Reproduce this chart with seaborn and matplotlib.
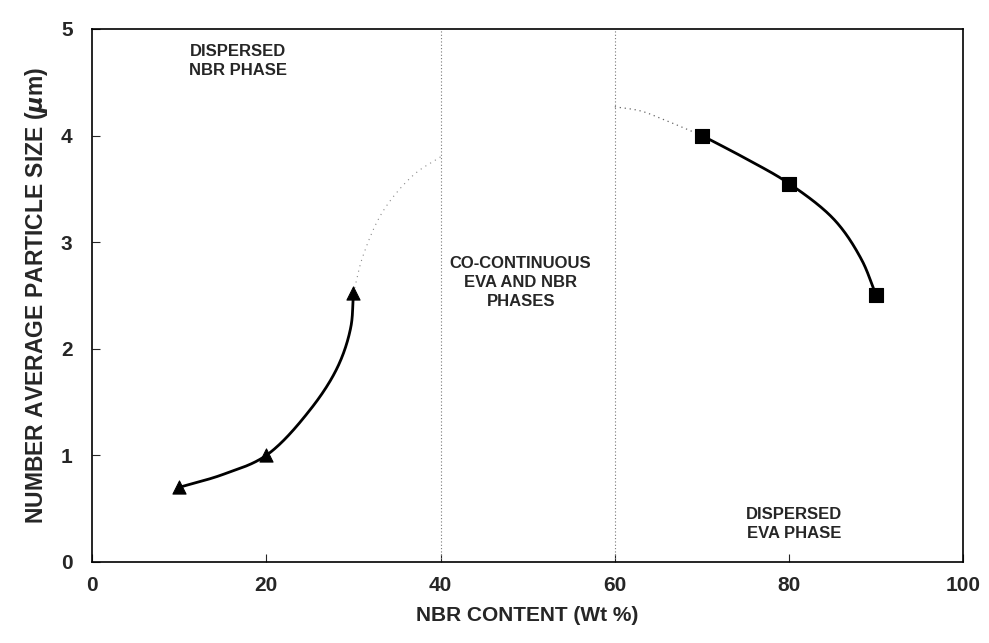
import numpy as np
import pandas as pd
import matplotlib
matplotlib.use("Agg")
import matplotlib.pyplot as plt
import seaborn as sns

# Measured particle sizes
nbr_content_low = [10, 20, 30]          # dispersed NBR phase (triangles)
size_low = [0.7, 1.0, 2.52]
nbr_content_high = [70, 80, 90]         # dispersed EVA phase (squares)
size_high = [4.0, 3.55, 2.5]

# Hand-drawn trend curves through the measurements
trend_low_x = [10, 15, 20, 25.06, 28.2, 29.7, 30]
trend_low_y = [0.7, 0.82, 1.0, 1.43, 1.83, 2.2, 2.52]
trend_high_x = [70, 74.9, 80, 85.2, 88.3, 90]
trend_high_y = [4.0, 3.79, 3.55, 3.21, 2.84, 2.5]

# Dotted extrapolations toward the co-continuous region
extrap_low_x = [30, 31.1, 33.4, 36.9, 40]
extrap_low_y = [2.52, 2.87, 3.29, 3.63, 3.8]
extrap_high_x = [60, 63, 65.6, 70]
extrap_high_y = [4.27, 4.23, 4.15, 4.0]

phase_bounds = [40, 60]

x_ticks = [0, 20, 40, 60, 80, 100]
y_ticks = [0, 1, 2, 3, 4, 5]

region_labels = ["DISPERSED\nNBR PHASE", "CO-CONTINUOUS\nEVA AND NBR\nPHASES",
                 "DISPERSED\nEVA PHASE"]
region_x = [16.8, 49.2, 80.6]
region_y = [4.7, 2.62, 0.36]

# pixel aspect used to space the curve parameter evenly on screen
Y_SCALE = 12.2


def smooth(xs, ys, n=40, alpha=0.5):
    """Centripetal Catmull-Rom curve through the given points."""
    pts = np.column_stack([xs, np.asarray(ys) * Y_SCALE]).astype(float)
    p = np.vstack([2 * pts[0] - pts[1], pts, 2 * pts[-1] - pts[-2]])
    out = []
    for i in range(1, len(p) - 2):
        p0, p1, p2, p3 = p[i - 1], p[i], p[i + 1], p[i + 2]
        t0 = 0.0
        t1 = t0 + np.linalg.norm(p1 - p0) ** alpha
        t2 = t1 + np.linalg.norm(p2 - p1) ** alpha
        t3 = t2 + np.linalg.norm(p3 - p2) ** alpha
        t = np.linspace(t1, t2, n, endpoint=False)[:, None]
        a1 = (t1 - t) / (t1 - t0) * p0 + (t - t0) / (t1 - t0) * p1
        a2 = (t2 - t) / (t2 - t1) * p1 + (t - t1) / (t2 - t1) * p2
        a3 = (t3 - t) / (t3 - t2) * p2 + (t - t2) / (t3 - t2) * p3
        b1 = (t2 - t) / (t2 - t0) * a1 + (t - t0) / (t2 - t0) * a2
        b2 = (t3 - t) / (t3 - t1) * a2 + (t - t1) / (t3 - t1) * a3
        out.append((t2 - t) / (t2 - t1) * b1 + (t - t1) / (t2 - t1) * b2)
    out.append(pts[-1:])
    c = np.vstack(out)
    return c[:, 0], c[:, 1] / Y_SCALE


sns.set_theme(style="ticks")
plt.rcParams["font.family"] = ["Liberation Sans Narrow", "Liberation Sans", "DejaVu Sans"]
plt.rcParams["font.weight"] = "bold"
plt.rcParams["mathtext.default"] = "it"

fig = plt.figure(figsize=(9.89, 6.43), dpi=100)
ax = fig.add_axes([0.093, 0.126, 0.881, 0.829])

for b in phase_bounds:
    ax.axvline(b, color="#777777", linestyle=(0, (1, 2)), linewidth=0.8, zorder=1)

ex, ey = smooth(extrap_low_x, extrap_low_y)
ax.plot(ex, ey, color="#888888", linestyle=(0, (1, 4)), linewidth=0.8, zorder=1)
ex, ey = smooth(extrap_high_x, extrap_high_y)
ax.plot(ex, ey, color="#666666", linestyle=(0, (1, 3)), linewidth=0.9, zorder=1)

tx, ty = smooth(trend_low_x, trend_low_y)
ax.plot(tx, ty, color="black", linewidth=2.0, zorder=2)
tx, ty = smooth(trend_high_x, trend_high_y)
ax.plot(tx, ty, color="black", linewidth=2.0, zorder=2)

low = pd.DataFrame({"x": nbr_content_low, "y": size_low})
high = pd.DataFrame({"x": nbr_content_high, "y": size_high})
sns.scatterplot(data=low, x="x", y="y", marker="^", s=90, color="black",
                edgecolor="black", ax=ax, zorder=3)
sns.scatterplot(data=high, x="x", y="y", marker="s", s=100, color="black",
                edgecolor="black", ax=ax, zorder=3)

for txt, x, y in zip(region_labels, region_x, region_y):
    ax.text(x, y, txt, ha="center", va="center", fontsize=12,
            fontweight="bold", linespacing=1.35)

ax.set_xlim(0, 100)
ax.set_ylim(0, 5)
ax.set_xticks(x_ticks)
ax.set_yticks(y_ticks)
ax.tick_params(direction="in", length=6, width=0.8, labelsize=15, pad=10)
ax.tick_params(axis="y", pad=14)
for lab in ax.get_xticklabels() + ax.get_yticklabels():
    lab.set_fontweight("bold")
for sp in ax.spines.values():
    sp.set_visible(True)
    sp.set_color("black")
    sp.set_linewidth(1.2)

ax.set_xlabel("NBR CONTENT (Wt %)", fontsize=15, fontweight="bold", labelpad=8)
ax.set_ylabel(r"NUMBER AVERAGE PARTICLE SIZE ($\mu$m)", fontsize=16.5,
              fontweight="bold", labelpad=8)

fig.savefig("out.png", dpi=100)
